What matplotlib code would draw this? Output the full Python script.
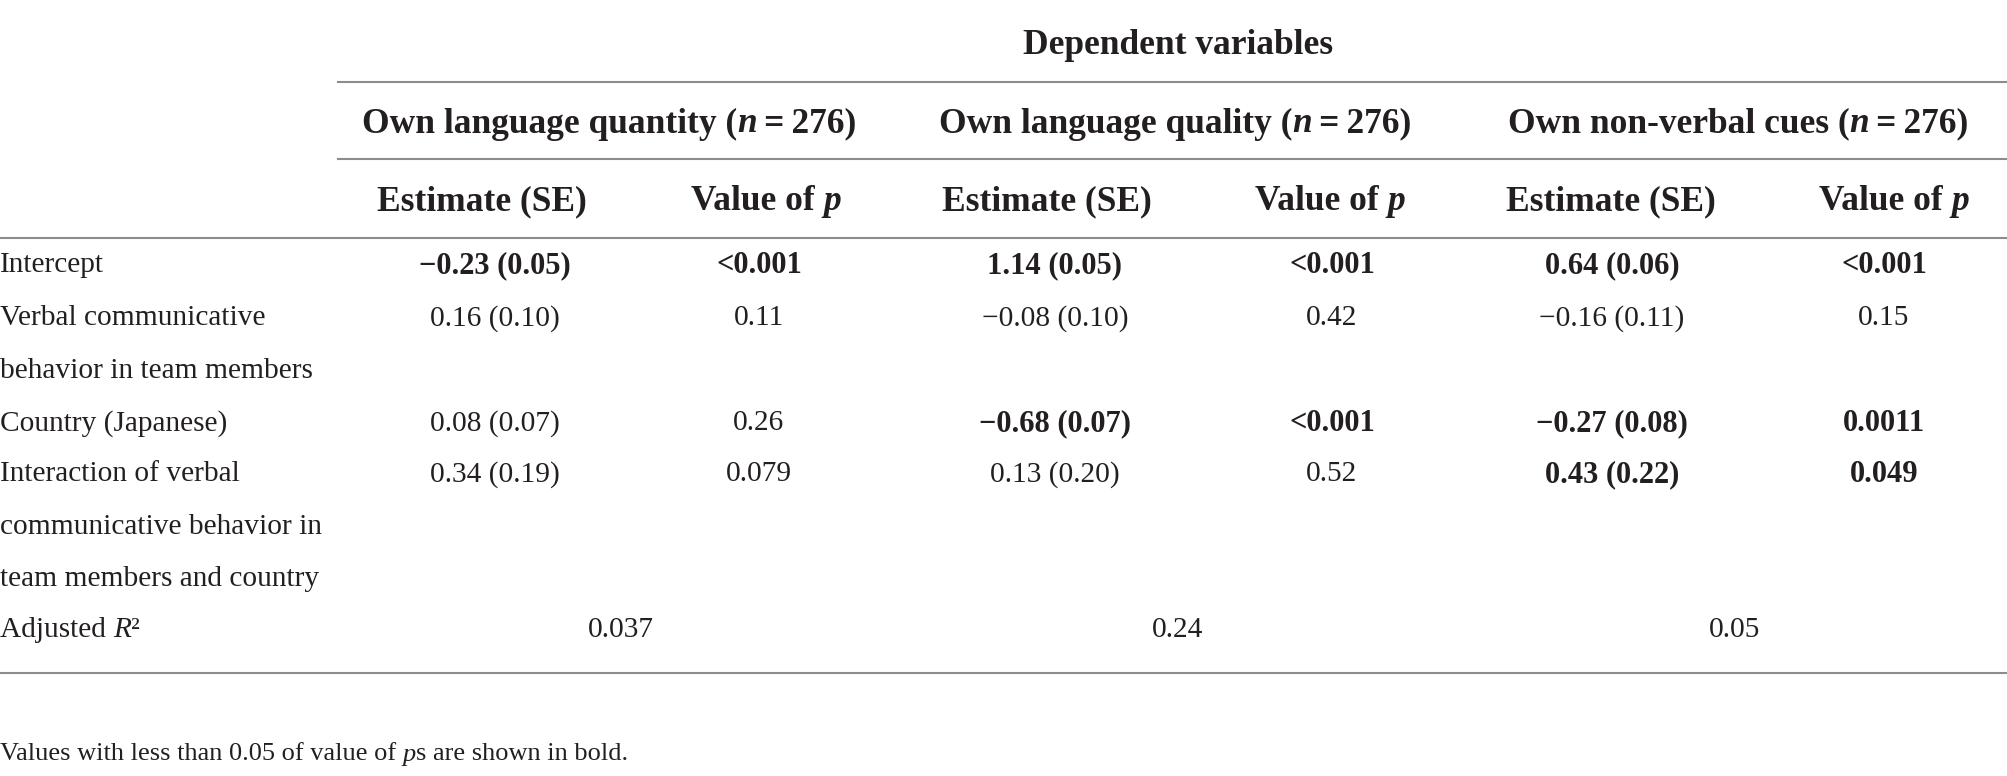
import numpy as np
import matplotlib
matplotlib.use("Agg")
import matplotlib.pyplot as plt

# table content
row_labels = [
    ["Intercept"],
    ["Verbal communicative", "behavior in team members"],
    ["Country (Japanese)"],
    ["Interaction of verbal", "communicative behavior in", "team members and country"],
]
group_names = ["Own language quantity", "Own language quality", "Own non-verbal cues"]
group_n = [276, 276, 276]

est_quantity = ["\u22120.23 (0.05)", "0.16 (0.10)", "0.08 (0.07)", "0.34 (0.19)"]
p_quantity = ["<0.001", "0.11", "0.26", "0.079"]
est_quality = ["1.14 (0.05)", "\u22120.08 (0.10)", "\u22120.68 (0.07)", "0.13 (0.20)"]
p_quality = ["<0.001", "0.42", "<0.001", "0.52"]
est_nonverbal = ["0.64 (0.06)", "\u22120.16 (0.11)", "\u22120.27 (0.08)", "0.43 (0.22)"]
p_nonverbal = ["<0.001", "0.15", "0.0011", "0.049"]
adj_r2 = ["0.037", "0.24", "0.05"]

note = "Values with less than 0.05 of value of "

W, H = 2008, 776
FONT = "Liberation Serif"
FS = 21.2       # body text
FS_B = 22       # bold body values
FS_H = 25.5     # header text
TXT = "#231f20"
LINE = "#8c8c8c"

fig = plt.figure(figsize=(W / 100, H / 100), dpi=100)
ax = fig.add_axes([0, 0, 1, 1])
ax.set_xlim(0, W)
ax.set_ylim(H, 0)
ax.axis("off")
renderer = fig.canvas.get_renderer()


def runs(x, y, parts, ha="center", size=FS):
    # parts: list of (text, weight, style); drawn side by side
    objs = []
    widths = []
    for s, w, st in parts:
        t = ax.text(0, y, s, fontsize=size, fontweight=w, fontstyle=st,
                    family=FONT, color=TXT, va="center_baseline", ha="left")
        objs.append(t)
        widths.append(t.get_window_extent(renderer).width)
    total = sum(widths)
    start = x - total / 2 if ha == "center" else x
    for t, wd in zip(objs, widths):
        t.set_x(start)
        start += wd


def is_sig(p):
    return p.startswith("<") or float(p) < 0.05


# rules
ax.plot([338, W], [82, 82], color=LINE, lw=1.5)
ax.plot([338, W], [159, 159], color=LINE, lw=1.5)
ax.plot([0, W], [238, 238], color=LINE, lw=1.5)
ax.plot([0, W], [673, 673], color=LINE, lw=1.5)

# header
runs(1178, 41, [("Dependent variables", "bold", "normal")], size=FS_H)
group_x = [609, 1175, 1738]
for gx, name, n in zip(group_x, group_names, group_n):
    runs(gx, 120, [(name + " (", "bold", "normal"), ("n", "bold", "italic"),
                   ("\u2009=\u2009%d)" % n, "bold", "normal")], size=FS_H)

head_est_x = [482, 1047, 1611]
head_p_x = [766, 1330, 1894]
for ex, px in zip(head_est_x, head_p_x):
    runs(ex, 198, [("Estimate (SE)", "bold", "normal")], size=FS_H)
    runs(px, 198, [("Value of ", "bold", "normal"), ("p", "bold", "italic")], size=FS_H)

# body
row_y = [262, 315, 420, 471]
line_gap = 52.5
for y, lab in zip(row_y, row_labels):
    for k, line in enumerate(lab):
        runs(0, y + k * line_gap, [(line, "normal", "normal")], ha="left")

est_x = [495, 1055, 1612]
p_x = [759, 1332, 1884]
cols = [(est_quantity, p_quantity), (est_quality, p_quality), (est_nonverbal, p_nonverbal)]
for (ests, ps), ex, px in zip(cols, est_x, p_x):
    for y, e, p in zip(row_y, ests, ps):
        if is_sig(p):
            runs(ex, y, [(e, "bold", "normal")], size=FS_B)
            runs(px, y, [(p, "bold", "normal")], size=FS_B)
        else:
            runs(ex, y, [(e, "normal", "normal")])
            runs(px, y, [(p, "normal", "normal")])

runs(0, 627, [("Adjusted ", "normal", "normal"), ("R", "normal", "italic"),
              ("\u00b2", "normal", "normal")], ha="left")
for rx, r in zip([621, 1178, 1735], adj_r2):
    runs(rx, 627, [(r, "normal", "normal")])

runs(0, 752, [(note, "normal", "normal"), ("p", "normal", "italic"),
              ("s are shown in bold.", "normal", "normal")], ha="left", size=19)

fig.savefig("out.png", dpi=100, facecolor="white")
